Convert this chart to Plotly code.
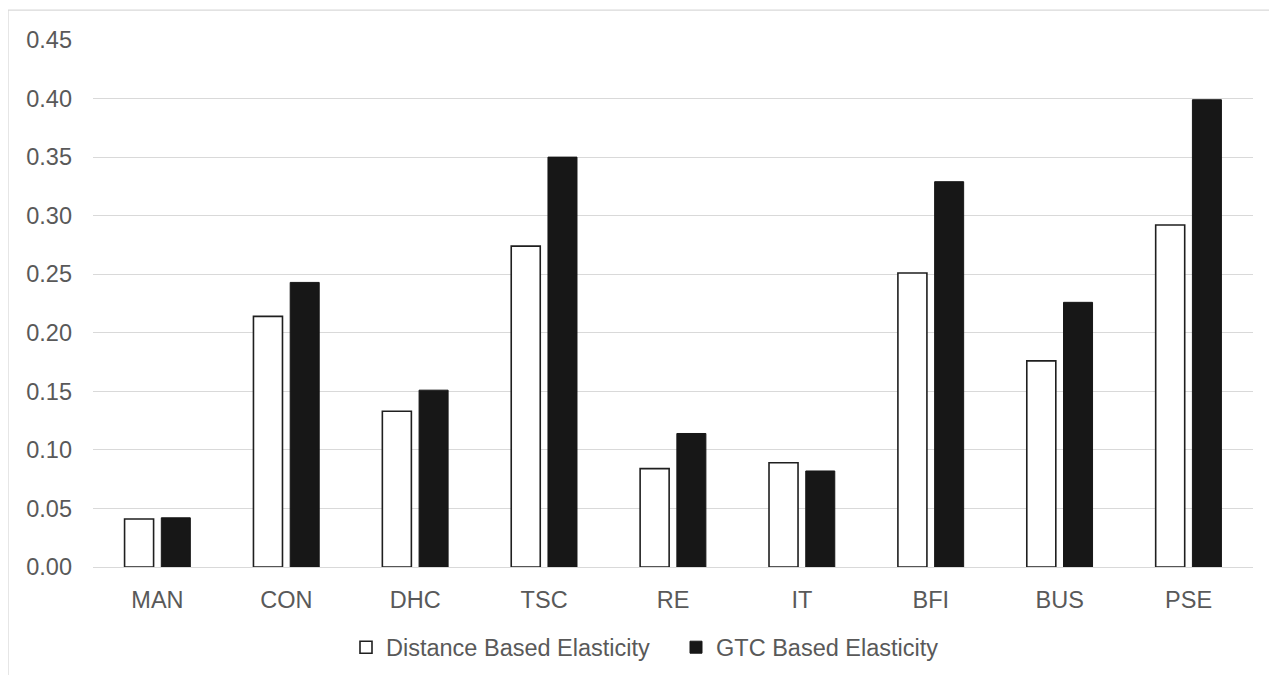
import plotly.graph_objects as go

categories = ["MAN", "CON", "DHC", "TSC", "RE", "IT", "BFI", "BUS", "PSE"]
distance_based = [0.041, 0.214, 0.133, 0.274, 0.084, 0.089, 0.251, 0.176, 0.292]
gtc_based = [0.042, 0.243, 0.151, 0.350, 0.114, 0.082, 0.329, 0.226, 0.399]
series_names = ["Distance Based Elasticity", "GTC Based Elasticity"]
y_ticks = [0.00, 0.05, 0.10, 0.15, 0.20, 0.25, 0.30, 0.35, 0.40, 0.45]

FONT = "Liberation Sans, Arial, sans-serif"
TXT = "#595959"
GRID = "#d9d9d9"

fig = go.Figure()
fig.add_trace(go.Bar(
    x=categories, y=distance_based, name=series_names[0],
    marker=dict(color="#ffffff", line=dict(color="#1f1f1f", width=1.6)),
))
fig.add_trace(go.Bar(
    x=categories, y=gtc_based, name=series_names[1],
    marker=dict(color="#171717", line=dict(color="#171717", width=1)),
))

# page body has an 8px default margin; positions below are screen pixels
OFF = 8
W, H = 1277, 675
plot_left, plot_right, plot_top, plot_bottom = 93 - OFF, 1253 - OFF, 40 - OFF, 567.5 - OFF
ml, mr, mt, mb = plot_left, W - plot_right, plot_top, H - plot_bottom
pw = plot_right - plot_left
ph = plot_bottom - plot_top

def px_x(p):
    return (p - OFF - plot_left) / pw

def px_y(p):
    return (plot_bottom - (p - OFF)) / ph

fig.update_layout(
    width=W, height=H,
    margin=dict(l=ml, r=mr, t=mt, b=mb, pad=0, autoexpand=False),
    paper_bgcolor="white", plot_bgcolor="white",
    barmode="group", bargap=0.43, bargroupgap=0.21,
    font=dict(family=FONT, size=23.5, color=TXT),
    showlegend=True,
    legend=dict(
        orientation="h", x=px_x(346), xanchor="left",
        y=px_y(648), yanchor="middle",
        font=dict(family=FONT, size=23.5, color=TXT),
        bgcolor="rgba(0,0,0,0)", itemwidth=30,
        entrywidth=285, entrywidthmode="pixels",
    ),
    shapes=[dict(
        type="rect", xref="paper", yref="paper",
        x0=px_x(8), x1=px_x(1320), y0=px_y(720), y1=px_y(10),
        line=dict(color=GRID, width=1.3), fillcolor="rgba(0,0,0,0)", layer="below",
    )],
)
fig.update_yaxes(
    range=[0, 0.45], tickvals=y_ticks, tickformat=".2f",
    showgrid=True, gridcolor=GRID, gridwidth=1.3,
    zeroline=False, showline=False, ticks="", ticklabelstandoff=20,
    tickfont=dict(family=FONT, size=23.5, color=TXT),
)
fig.update_xaxes(
    showgrid=False, showline=True, linecolor=GRID, linewidth=1.3,
    ticks="", layer="above traces", ticklabelstandoff=12,
    tickfont=dict(family=FONT, size=23.5, color=TXT),
)

fig.write_html("out.html")
